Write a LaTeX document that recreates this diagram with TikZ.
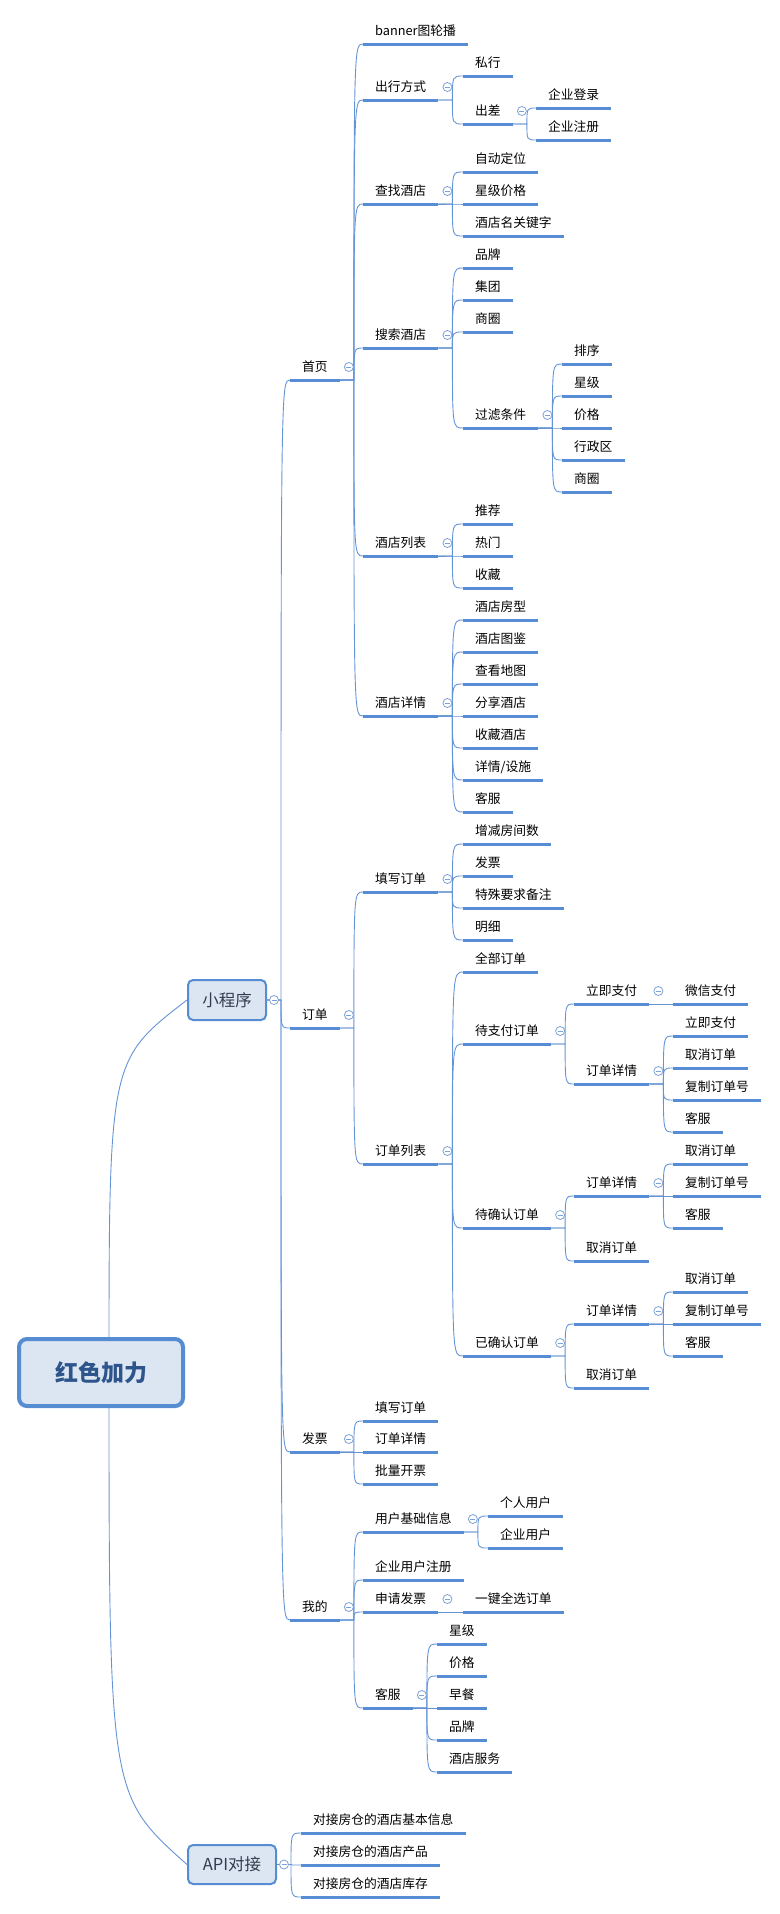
\documentclass[tikz,border=0pt]{standalone}
\usepackage{fontspec}
\setmainfont{Noto Sans CJK SC}
\usetikzlibrary{backgrounds}
\definecolor{mmLine}{RGB}{86,141,212}
\definecolor{mmLink}{RGB}{100,148,214}
\definecolor{mmFold}{RGB}{125,162,214}
\definecolor{mmFill}{RGB}{220,230,242}
\definecolor{mmBorder}{RGB}{85,140,210}
\definecolor{mmRoot}{RGB}{45,85,140}
\definecolor{mmText}{RGB}{50,60,80}

\tikzset{
  topic/.style={anchor=south west, inner xsep=12pt, inner ysep=0pt, text height=10pt, text depth=8pt,
    font=\fontsize{12.75}{15}\selectfont,
    append after command={(\tikzlastnode.south west) edge[mmLine, line width=3pt] (\tikzlastnode.south east)}},
  foldmark/.style={circle, draw=mmFold, fill=white, line width=0.8pt, minimum size=9pt, inner sep=0pt,
    text height=0pt, text depth=0pt,
    path picture={\draw[mmFold, line width=0.8pt] ([xshift=-2.5pt]path picture bounding box.center) -- ([xshift=2.5pt]path picture bounding box.center);}},
  fold/.style={label={[foldmark, anchor=center, xshift=9pt, yshift=13pt]south east:{}}},
  boxfold/.style={label={[foldmark, anchor=center, xshift=7pt]east:{}}},
  rootbox/.style={draw=mmBorder, line width=4pt, fill=mmFill, rounded corners=8pt,
    minimum width=164pt, minimum height=67pt, text=mmRoot, font=\bfseries\fontsize{23}{27}\selectfont},
  subbox/.style={draw=mmBorder, line width=2pt, fill=mmFill, rounded corners=5pt,
    minimum width=78pt, minimum height=40pt, text=mmText, font=\fontsize{16.5}{20}\selectfont, boxfold},
  link/.style={draw=mmLink, line width=0.9pt},
  branch/.style={to path={-- ++(14pt,0) coordinate (turn) .. controls (turn |- \tikztotarget) .. (\tikztotarget)}}
}

\begin{document}
\begin{tikzpicture}[x=1pt, y=-1pt]
\useasboundingbox (0,0) rectangle (779,1914);

% centre and the two main branches
\node[rootbox] (root) at (101,1372.5) {红色加力};
\node[subbox] (app) at (227,1000) {小程序};
\node[subbox, minimum width=88pt, minimum height=39pt] (api) at (232,1864.5) {API对接};
\coordinate (rootout) at ([xshift=8pt]root.center);
\coordinate (upbend) at (109,1060);
\coordinate (downbend) at (109,1795);

% 小程序
\node[topic, fold] (home) at (290,380) {首页};
\node[topic, fold] (order) at (290,1028) {订单};
\node[topic, fold] (invoice) at (290,1452) {发票};
\node[topic, fold] (mine) at (290,1620) {我的};

% 首页
\node[topic] (banner) at (363,44) {banner图轮播};
\node[topic, fold] (travel) at (363,100) {出行方式};
\node[topic, fold] (find) at (363,204) {查找酒店};
\node[topic, fold] (search) at (363,348) {搜索酒店};
\node[topic, fold] (hlist) at (363,556) {酒店列表};
\node[topic, fold] (hdetail) at (363,716) {酒店详情};

\node[topic] (private) at (463,76) {私行};
\node[topic, fold] (business) at (463,124) {出差};
\node[topic] (corplogin) at (536,108) {企业登录};
\node[topic] (corpreg) at (536,140) {企业注册};

\node[topic] (locate) at (463,172) {自动定位};
\node[topic] (starprice) at (463,204) {星级价格};
\node[topic] (keyword) at (463,236) {酒店名关键字};

\node[topic] (brand) at (463,268) {品牌};
\node[topic] (group) at (463,300) {集团};
\node[topic] (area) at (463,332) {商圈};
\node[topic, fold] (filter) at (463,428) {过滤条件};
\node[topic] (sort) at (562,364) {排序};
\node[topic] (fstar) at (562,396) {星级};
\node[topic] (fprice) at (562,428) {价格};
\node[topic] (district) at (562,460) {行政区};
\node[topic] (farea) at (562,492) {商圈};

\node[topic] (recommend) at (463,524) {推荐};
\node[topic] (hot) at (463,556) {热门};
\node[topic] (fav) at (463,588) {收藏};

\node[topic] (roomtype) at (463,620) {酒店房型};
\node[topic] (gallery) at (463,652) {酒店图鉴};
\node[topic] (map) at (463,684) {查看地图};
\node[topic] (share) at (463,716) {分享酒店};
\node[topic] (favhotel) at (463,748) {收藏酒店};
\node[topic] (facility) at (463,780) {详情/设施};
\node[topic] (hservice) at (463,812) {客服};

% 订单
\node[topic, fold] (fill) at (363,892) {填写订单};
\node[topic, fold] (olist) at (363,1164) {订单列表};

\node[topic] (rooms) at (463,844) {增减房间数};
\node[topic] (receipt) at (463,876) {发票};
\node[topic] (remark) at (463,908) {特殊要求备注};
\node[topic] (fee) at (463,940) {明细};

\node[topic] (allorder) at (463,972) {全部订单};
\node[topic, fold] (unpaid) at (463,1044) {待支付订单};
\node[topic, fold] (pending) at (463,1228) {待确认订单};
\node[topic, fold] (confirmed) at (463,1356) {已确认订单};

\node[topic, fold] (paynow) at (574,1004) {立即支付};
\node[topic, fold] (udetail) at (574,1084) {订单详情};
\node[topic] (wechat) at (673,1004) {微信支付};
\node[topic] (upay) at (673,1036) {立即支付};
\node[topic] (ucancel) at (673,1068) {取消订单};
\node[topic] (ucopy) at (673,1100) {复制订单号};
\node[topic] (uservice) at (673,1132) {客服};

\node[topic, fold] (pdetail) at (574,1196) {订单详情};
\node[topic] (pcancel) at (574,1261) {取消订单};
\node[topic] (pdcancel) at (673,1164) {取消订单};
\node[topic] (pdcopy) at (673,1196) {复制订单号};
\node[topic] (pdservice) at (673,1228) {客服};

\node[topic, fold] (cdetail) at (574,1324) {订单详情};
\node[topic] (ccancel) at (574,1388) {取消订单};
\node[topic] (cdcancel) at (673,1292) {取消订单};
\node[topic] (cdcopy) at (673,1324) {复制订单号};
\node[topic] (cdservice) at (673,1356) {客服};

% 发票
\node[topic] (ifill) at (363,1421) {填写订单};
\node[topic] (idetail) at (363,1452) {订单详情};
\node[topic] (ibatch) at (363,1484) {批量开票};

% 我的
\node[topic, fold] (profile) at (363,1532) {用户基础信息};
\node[topic] (corpuser) at (363,1580) {企业用户注册};
\node[topic, fold] (apply) at (363,1612) {申请发票};
\node[topic, fold] (support) at (363,1708) {客服};
\node[topic] (personal) at (488,1516) {个人用户};
\node[topic] (enterprise) at (488,1548) {企业用户};
\node[topic] (onekey) at (463,1612) {一键全选订单};
\node[topic] (sstar) at (437,1644) {星级};
\node[topic] (sprice) at (437,1676) {价格};
\node[topic] (breakfast) at (437,1708) {早餐};
\node[topic] (sbrand) at (437,1740) {品牌};
\node[topic] (sservice) at (437,1772) {酒店服务};

% API对接
\node[topic] (base) at (301,1833) {对接房仓的酒店基本信息};
\node[topic] (product) at (301,1865) {对接房仓的酒店产品};
\node[topic] (stock) at (301,1897) {对接房仓的酒店库存};

% connectors
\begin{scope}[on background layer]
\draw[link] (rootout) .. controls (upbend) .. (app.west);
\draw[link] (rootout) .. controls (downbend) .. (api.west);
\foreach \c in {home,order,invoice,mine} \draw[link] (app.east) to[branch] (\c.south west);
\foreach \c in {base,product,stock} \draw[link] (api.east) to[branch] (\c.south west);
\foreach \c in {banner,travel,find,search,hlist,hdetail} \draw[link] (home.south east) to[branch] (\c.south west);
\foreach \c in {private,business} \draw[link] (travel.south east) to[branch] (\c.south west);
\foreach \c in {corplogin,corpreg} \draw[link] (business.south east) to[branch] (\c.south west);
\foreach \c in {locate,starprice,keyword} \draw[link] (find.south east) to[branch] (\c.south west);
\foreach \c in {brand,group,area,filter} \draw[link] (search.south east) to[branch] (\c.south west);
\foreach \c in {sort,fstar,fprice,district,farea} \draw[link] (filter.south east) to[branch] (\c.south west);
\foreach \c in {recommend,hot,fav} \draw[link] (hlist.south east) to[branch] (\c.south west);
\foreach \c in {roomtype,gallery,map,share,favhotel,facility,hservice} \draw[link] (hdetail.south east) to[branch] (\c.south west);
\foreach \c in {fill,olist} \draw[link] (order.south east) to[branch] (\c.south west);
\foreach \c in {rooms,receipt,remark,fee} \draw[link] (fill.south east) to[branch] (\c.south west);
\foreach \c in {allorder,unpaid,pending,confirmed} \draw[link] (olist.south east) to[branch] (\c.south west);
\foreach \c in {paynow,udetail} \draw[link] (unpaid.south east) to[branch] (\c.south west);
\draw[link] (paynow.south east) to[branch] (wechat.south west);
\foreach \c in {upay,ucancel,ucopy,uservice} \draw[link] (udetail.south east) to[branch] (\c.south west);
\foreach \c in {pdetail,pcancel} \draw[link] (pending.south east) to[branch] (\c.south west);
\foreach \c in {pdcancel,pdcopy,pdservice} \draw[link] (pdetail.south east) to[branch] (\c.south west);
\foreach \c in {cdetail,ccancel} \draw[link] (confirmed.south east) to[branch] (\c.south west);
\foreach \c in {cdcancel,cdcopy,cdservice} \draw[link] (cdetail.south east) to[branch] (\c.south west);
\foreach \c in {ifill,idetail,ibatch} \draw[link] (invoice.south east) to[branch] (\c.south west);
\foreach \c in {profile,corpuser,apply,support} \draw[link] (mine.south east) to[branch] (\c.south west);
\foreach \c in {personal,enterprise} \draw[link] (profile.south east) to[branch] (\c.south west);
\draw[link] (apply.south east) to[branch] (onekey.south west);
\foreach \c in {sstar,sprice,breakfast,sbrand,sservice} \draw[link] (support.south east) to[branch] (\c.south west);
\end{scope}
\end{tikzpicture}
\end{document}
